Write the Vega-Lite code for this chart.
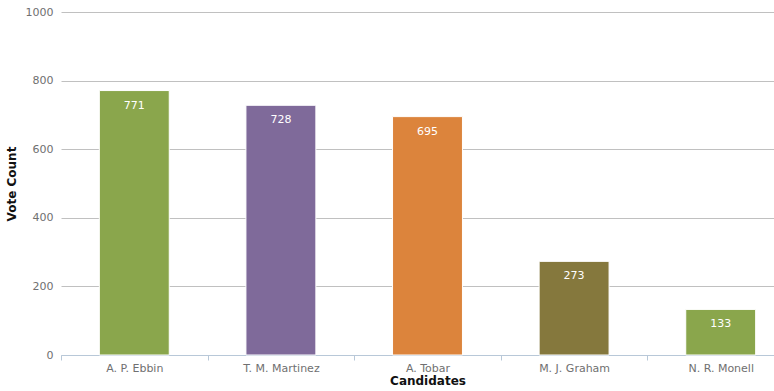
{
  "$schema": "https://vega.github.io/schema/vega-lite/v6.json",
  "autosize": {"type": "none"},
  "padding": {"left": 61, "top": 12, "right": 0, "bottom": 36},
  "width": 733,
  "height": 343,
  "config": {"view": {"stroke": null}, "font": "DejaVu Sans"},
  "data": {"values": [
    {"candidate": "A. P. Ebbin", "votes": 771, "color": "#8aa64c"},
    {"candidate": "T. M. Martinez", "votes": 728, "color": "#7f6a9a"},
    {"candidate": "A. Tobar", "votes": 695, "color": "#dc843c"},
    {"candidate": "M. J. Graham", "votes": 273, "color": "#85783d"},
    {"candidate": "N. R. Monell", "votes": 133, "color": "#8aa64c"}
  ]},
  "encoding": {
    "x": {"field": "candidate", "type": "nominal", "sort": null,
      "scale": {"paddingInner": 0, "paddingOuter": 0},
      "axis": {"title": "Candidates", "labelAngle": 0, "tickBand": "extent",
        "labelFont": "DejaVu Sans", "labelFontSize": 11, "labelColor": "#707070",
        "titleFont": "DejaVu Sans", "titleFontSize": 12, "titleFontWeight": "bold", "titleColor": "#111111",
        "domainColor": "#b8c8d8", "tickColor": "#b8c8d8", "tickSize": 5,
        "labelPadding": 2, "titlePadding": 2}},
    "y": {"field": "votes", "type": "quantitative",
      "scale": {"domain": [0, 1000]},
      "axis": {"title": "Vote Count", "values": [0, 200, 400, 600, 800, 1000], "format": "d",
        "domain": false, "ticks": false, "gridColor": "#c0c0c0",
        "labelFont": "DejaVu Sans", "labelFontSize": 11, "labelColor": "#707070", "labelPadding": 8,
        "titleFont": "DejaVu Sans", "titleFontSize": 12, "titleFontWeight": "bold", "titleColor": "#111111",
        "titleX": -50, "titleBaseline": "middle"}}
  },
  "layer": [
    {"mark": {"type": "bar", "width": {"band": 0.477}, "stroke": "white", "strokeWidth": 1},
     "encoding": {"color": {"field": "color", "type": "nominal", "scale": null}}},
    {"mark": {"type": "text", "color": "white", "fontSize": 11, "baseline": "top", "dy": 9, "font": "DejaVu Sans"},
     "encoding": {"text": {"field": "votes", "type": "quantitative"}}}
  ]
}
